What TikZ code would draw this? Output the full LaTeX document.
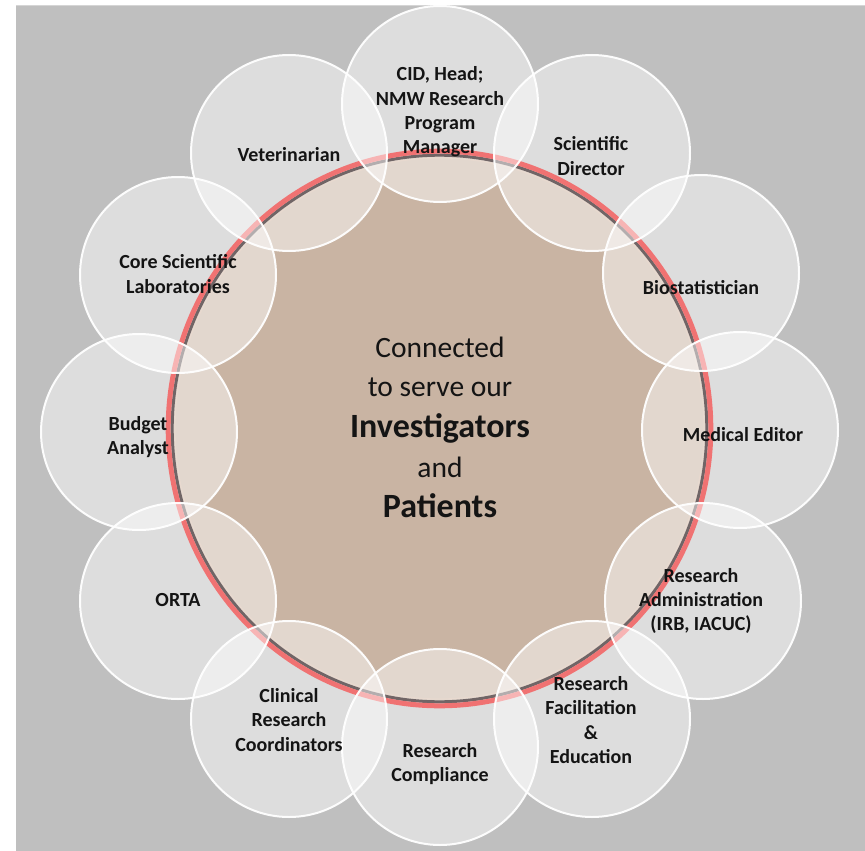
\documentclass[tikz,border=0pt]{standalone}
\usepackage{fontspec}
\setmainfont{Carlito}
\usetikzlibrary{shapes.geometric}
\definecolor{bggray}{HTML}{BFBFBF}
\definecolor{hubfill}{HTML}{C9B4A3}
\definecolor{ringred}{HTML}{F07272}
\definecolor{ringdark}{HTML}{706566}
\definecolor{ringlight}{HTML}{E8D9CF}
\definecolor{txt}{HTML}{141414}
\begin{document}
\begin{tikzpicture}[x=1pt,y=-1pt,
  orb/.style={circle, minimum size=196pt, inner sep=0pt},
  rim/.style={draw=white, draw opacity=0.95, line width=2pt},
  lbl/.style={align=center, font=\bfseries\fontsize{20}{24.4}\selectfont, text=txt, inner sep=0pt},
  reg/.style={anchor=base, inner sep=0pt, text=txt, font=\fontsize{29.5}{30}\selectfont},
  big/.style={anchor=base, inner sep=0pt, text=txt, font=\bfseries\fontsize{34}{36}\selectfont},
  hub/.style={ellipse, inner sep=0pt, minimum width=536pt, minimum height=548pt, fill=hubfill}]
\useasboundingbox (0,0) rectangle (865,851);
\fill[white] (0,0) rectangle (865,851);
\fill[bggray] (16,5) rectangle (865,851);
\fill[white, opacity=0.35] (16,5) rectangle (865,6.5);
% central hub
\node[hub] (hub) at (439.5,428.5) {};
% orbit circle positions
\node[orb] (c1) at (440,104) {};
\node[orb] (c2) at (592,153) {};
\node[orb] (c3) at (701,273) {};
\node[orb] (c4) at (740,430) {};
\node[orb] (c5) at (703,601) {};
\node[orb] (c6) at (592,719) {};
\node[orb] (c7) at (440,747) {};
\node[orb] (c8) at (289,719) {};
\node[orb] (c9) at (178,601) {};
\node[orb] (c10) at (139,432) {};
\node[orb] (c11) at (178,275) {};
\node[orb] (c12) at (289,153) {};
% one translucent layer over the union of all circles
\fill[white, opacity=0.47]
  \foreach \i in {1,...,12} { (c\i.center) circle [radius=98] };
% ring on top of that layer
\draw[ringlight, line width=1.2pt] (hub.center) ellipse [x radius=264.5, y radius=270.5];
\draw[ringdark, line width=3pt] (hub.center) ellipse [x radius=267.3, y radius=273.3];
\draw[ringred, line width=5pt] (hub.center) ellipse [x radius=271.3, y radius=277.3];
% second layer in the overlaps of neighbouring circles
\foreach \i/\j in {1/2,2/3,3/4,4/5,5/6,6/7,7/8,8/9,9/10,10/11,11/12,12/1} {
  \begin{scope}
    \clip (c\i.center) circle [radius=98];
    \fill[white, opacity=0.47] (c\j.center) circle [radius=98];
  \end{scope}
}
% rims
\foreach \i in {1,...,12} { \draw[rim] (c\i.center) circle [radius=98]; }
% labels
\node[lbl] (l1) at (440,112) {CID, Head;\\NMW Research\\Program\\Manager};
\node[lbl] (l2) at (591,156) {Scientific\\Director};
\node[lbl] (l3) at (701,288) {Biostatistician};
\node[lbl] (l4) at (743,435) {Medical Editor};
\node[lbl] (l5) at (701,601) {Research\\Administration\\(IRB, IACUC)};
\node[lbl] (l6) at (591,720) {Research\\Facilitation\\\&\\Education};
\node[lbl] (l7) at (440,764) {Research\\Compliance};
\node[lbl] (l8) at (289,720) {Clinical\\Research\\Coordinators};
\node[lbl] (l9) at (178,600) {ORTA};
\node[lbl] (l10) at (138,437) {Budget\\Analyst};
\node[lbl] (l11) at (178,274) {Core Scientific\\Laboratories};
\node[lbl] (l12) at (289,155) {Veterinarian};
% center text
\node[reg] (t1) at (440,357) {Connected};
\node[reg] (t2) at (440,396) {to serve our};
\node[big] (t3) at (440,437) {Investigators};
\node[reg] (t4) at (440,477) {and};
\node[big] (t5) at (440,517) {Patients};
\end{tikzpicture}
\end{document}
